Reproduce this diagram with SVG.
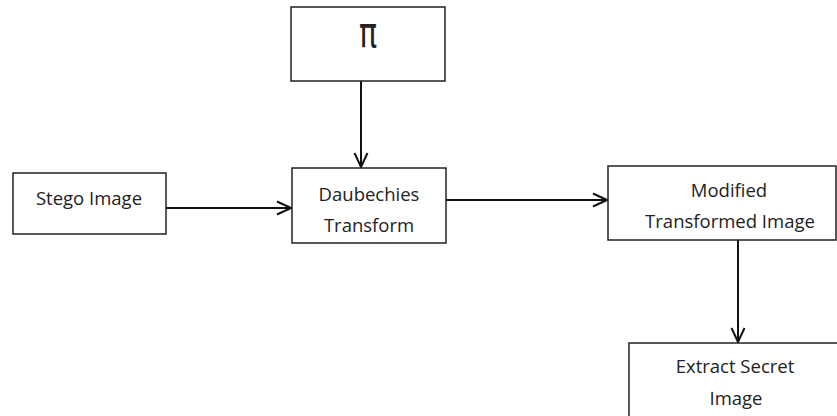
<svg xmlns="http://www.w3.org/2000/svg" width="837" height="416" viewBox="0 0 837 416">
<style>
.box{fill:#fff;stroke:#222;stroke-width:1.5}
.lbl{font-family:"Open Sans","Liberation Sans",sans-serif;font-size:18.5px;fill:#222;text-anchor:middle}
.con{stroke:#111;stroke-width:2;fill:none}
</style>
<defs>
<marker id="arr" markerWidth="18" markerHeight="16" refX="16" refY="8" orient="auto" markerUnits="userSpaceOnUse">
<path d="M2,1.5 L16,8 L2,14.5" fill="none" stroke="#111" stroke-width="2"/>
</marker>
</defs>
<rect width="837" height="416" fill="#fff"/>
<g id="connectors">
<line class="con" x1="361" y1="81" x2="361" y2="167" marker-end="url(#arr)"/>
<line class="con" x1="166" y1="208" x2="291" y2="208" marker-end="url(#arr)"/>
<line class="con" x1="446" y1="200" x2="607" y2="200" marker-end="url(#arr)"/>
<line class="con" x1="738" y1="240" x2="738" y2="342" marker-end="url(#arr)"/>
</g>
<g id="pi">
<rect class="box" x="291" y="7" width="154" height="74"/>
<text x="0" y="0" transform="translate(368 47) scale(0.72 1)" style="font-family:'DejaVu Sans',sans-serif;font-size:42px;fill:#222;text-anchor:middle">π</text>
</g>
<g id="stego">
<rect class="box" x="13" y="173" width="153" height="61"/>
<text class="lbl" x="89" y="205">Stego Image</text>
</g>
<g id="daub">
<rect class="box" x="292" y="168" width="154" height="75"/>
<text class="lbl" x="369" y="201">Daubechies</text>
<text class="lbl" x="369" y="232">Transform</text>
</g>
<g id="modified">
<rect class="box" x="608" y="166" width="228" height="74"/>
<text class="lbl" x="729" y="197">Modified</text>
<text class="lbl" x="730" y="228">Transformed Image</text>
</g>
<g id="extract">
<rect class="box" x="629" y="343" width="220" height="90"/>
<text class="lbl" x="735" y="373">Extract Secret</text>
<text class="lbl" x="736" y="405">Image</text>
</g>
</svg>
